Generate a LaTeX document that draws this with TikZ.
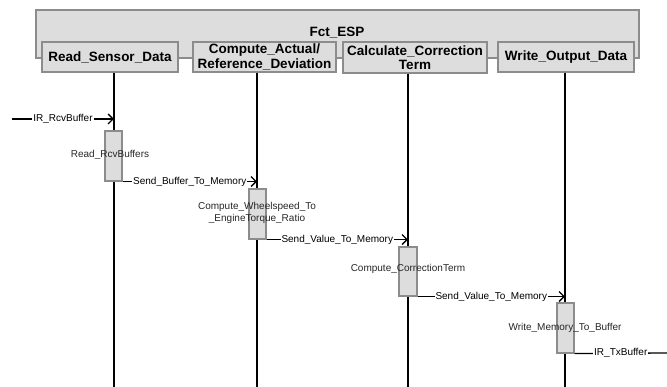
\documentclass[tikz,border=0pt]{standalone}
\usepackage{fontspec}
\setmainfont{Liberation Sans}
\usetikzlibrary{arrows.meta}
\definecolor{boxfill}{HTML}{DDDDDD}
\definecolor{boxline}{HTML}{8C8C8C}
\begin{document}
\begin{tikzpicture}[x=1pt,y=-1pt,
  frame/.style={draw=boxline,fill=boxfill,line width=1.1pt},
  header/.style={frame,inner sep=0pt,align=center,
    font=\fontsize{13.5}{14.5}\selectfont\bfseries},
  actbox/.style={frame,minimum width=17pt,minimum height=50pt,inner sep=0pt},
  lifeline/.style={line width=2.2pt,black},
  msg/.style={line width=1.3pt,black},
  call/.style={msg,-{Straight Barb[length=5pt,width=10pt,line width=1.3pt]}},
  msglabel/.style={fill=white,inner sep=1pt,font=\fontsize{10}{11}\selectfont},
  actlabel/.style={inner sep=0pt,align=center,text=black!85,
    font=\fontsize{10}{12}\selectfont}]
\useasboundingbox (0,0) rectangle (667,387);

% enclosing function block
\draw[frame] (36,10) rectangle (639,58);
\node[font=\fontsize{13.5}{14.5}\selectfont\bfseries] (fct) at (337,33) {Fct\_ESP};

% lifeline headers
\node[header,minimum width=136pt,minimum height=30pt] (h1) at (110,57) {Read\_Sensor\_Data};
\node[header,minimum width=143pt,minimum height=30pt] (h2) at (264.5,57) {Compute\_Actual/\\Reference\_Deviation};
\node[header,minimum width=144pt,minimum height=31pt] (h3) at (415,57.5) {Calculate\_Correction\\Term};
\node[header,minimum width=136pt,minimum height=30pt] (h4) at (566,57) {Write\_Output\_Data};

% lifeline ends
\coordinate (l1) at (114,387);
\coordinate (l2) at (257,387);
\coordinate (l3) at (408,387);
\coordinate (l4) at (565,387);

\draw[lifeline] (h1.south -| l1) -- (l1);
\draw[lifeline] (h2.south -| l2) -- (l2);
\draw[lifeline] (h3.south -| l3) -- (l3);
\draw[lifeline] (h4.south -| l4) -- (l4);

% activations
\node[actbox] (a1) at (113.5,156) {};
\node[actbox] (a2) at (257.5,214) {};
\node[actbox,minimum width=18pt,minimum height=49pt] (a3) at (408,271.5) {};
\node[actbox] (a4) at (565.5,328) {};

\node[actlabel] (t1) at (110,155) {Read\_RcvBuffers};
\node[actlabel] (t2) at (257,213) {Compute\_Wheelspeed\_To\\\_EngineTorque\_Ratio};
\node[actlabel] (t3) at (408,269) {Compute\_CorrectionTerm};
\node[actlabel] (t4) at (565,328) {Write\_Memory\_To\_Buffer};

% messages
\coordinate (in) at (12,119);
\coordinate (out) at (667,353);
\draw[call] (in) -- node[msglabel] (m1) {IR\_RcvBuffer} (in -| l1);
\draw[call] (a1.south east) -- node[msglabel] (m2) {Send\_Buffer\_To\_Memory} (a1.south east -| l2);
\draw[call] (a2.south east) -- node[msglabel] (m3) {Send\_Value\_To\_Memory} (a2.south east -| l3);
\draw[call] (a3.south east) -- node[msglabel] (m4) {Send\_Value\_To\_Memory} (a3.south east -| l4);
\draw[msg] (a4.south east) -- node[msglabel] (m5) {IR\_TxBuffer} (out);
\end{tikzpicture}
\end{document}
